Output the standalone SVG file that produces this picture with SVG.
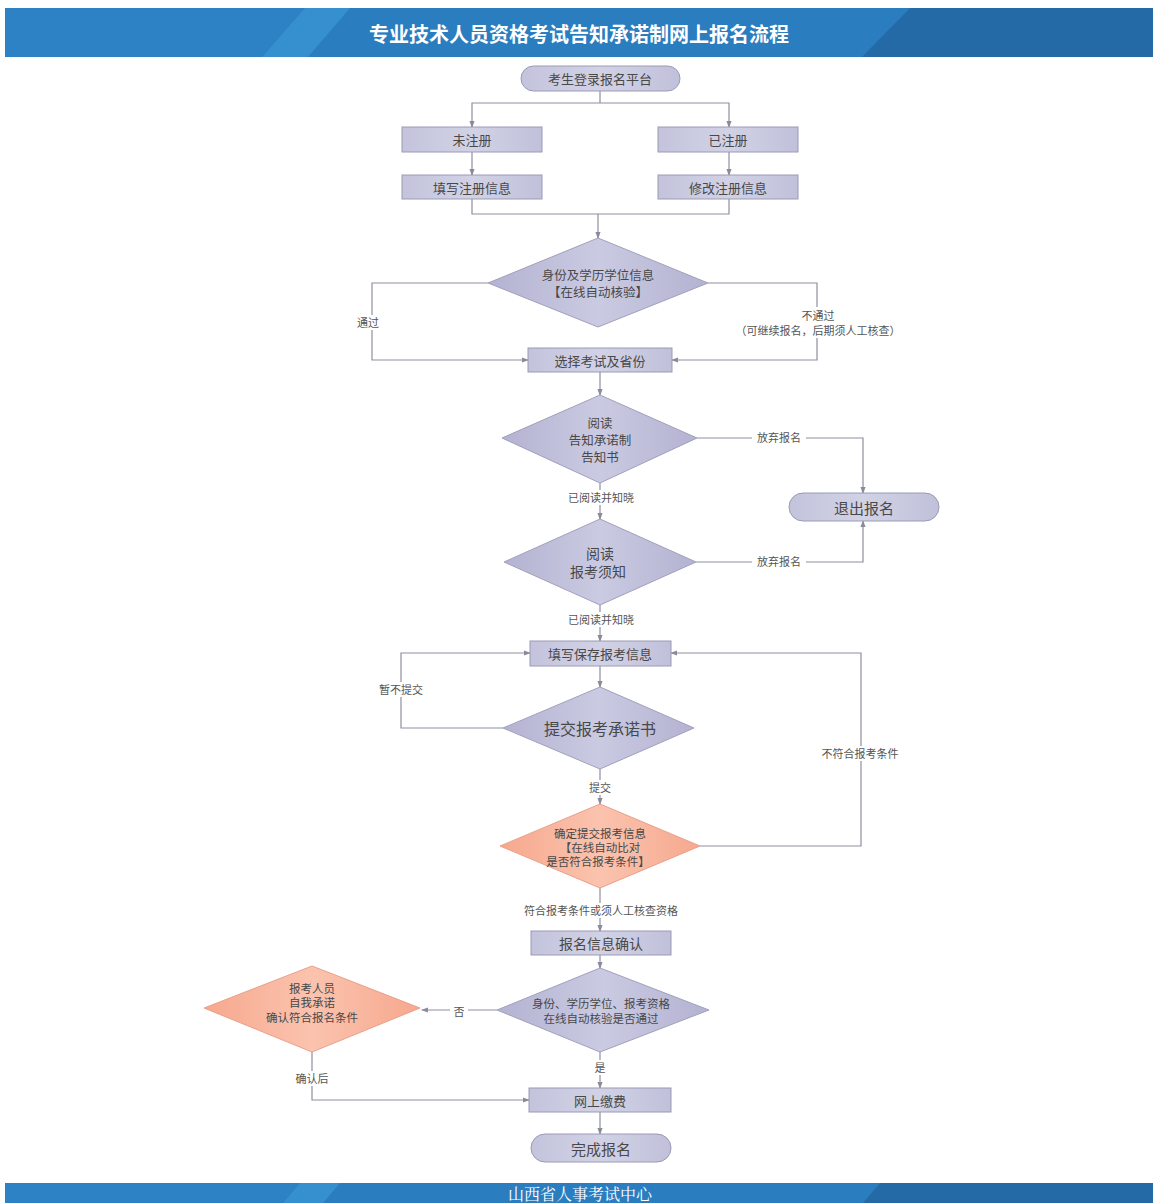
<svg xmlns="http://www.w3.org/2000/svg" width="1153" height="1203" viewBox="0 0 1153 1203">
<defs>
<linearGradient id="gBox" x1="0" y1="0" x2="1" y2="0">
<stop offset="0" stop-color="#c3c3dc"/><stop offset="0.5" stop-color="#d2d2e6"/><stop offset="1" stop-color="#c0c0da"/>
</linearGradient>
<linearGradient id="gDia" x1="0" y1="0" x2="1" y2="0">
<stop offset="0" stop-color="#b3b3d2"/><stop offset="0.5" stop-color="#cacae2"/><stop offset="1" stop-color="#b3b3d2"/>
</linearGradient>
<linearGradient id="gSal" x1="0" y1="0" x2="1" y2="0">
<stop offset="0" stop-color="#f6a88e"/><stop offset="0.5" stop-color="#fbc3ae"/><stop offset="1" stop-color="#f6a88e"/>
</linearGradient>
<marker id="arr" viewBox="0 0 8 8" refX="7" refY="4" markerWidth="7" markerHeight="7" orient="auto" markerUnits="userSpaceOnUse">
<path d="M0,1 L8,4 L0,7 z" fill="#8a8a9a"/>
</marker>
<style>
.box{fill:url(#gBox);stroke:#9a9ab6;stroke-width:1}
.dia{fill:url(#gDia);stroke:#a0a0bc;stroke-width:1}
.sal{fill:url(#gSal);stroke:#e8a08a;stroke-width:1}
.t{font-family:"Noto Sans CJK SC","Noto Sans",sans-serif;fill:#484848;text-anchor:middle;dominant-baseline:central}
.n{font-size:13px}
.l{font-size:11px;fill:#555}
.c path,.c polyline,.c line{fill:none;stroke:#8f8f9f;stroke-width:1.2}
.a{marker-end:url(#arr)}
.lb{fill:#fff}
</style>
</defs>
<rect width="1153" height="1203" fill="#fff"/>
<g id="header">
<rect x="5" y="8" width="1148" height="49" fill="#2a7dbf"/>
<polygon points="5,8 305,8 262,57 5,57" fill="#2c82c4"/>
<polygon points="262,57 305,8 350,8 308,57" fill="#3690d0"/>
<polygon points="910,8 1153,8 1153,57 862,57" fill="#246aa6"/>
<text class="t" x="579" y="33" style="font-size:20px;font-weight:bold;fill:#fff">专业技术人员资格考试告知承诺制网上报名流程</text>
</g>
<g id="footer">
<rect x="5" y="1183" width="1148" height="20" fill="#2a7dbf"/>
<polygon points="5,1183 300,1183 283,1203 5,1203" fill="#2c82c4"/>
<polygon points="300,1183 340,1183 323,1203 283,1203" fill="#3690d0"/>
<polygon points="880,1183 1153,1183 1153,1203 863,1203" fill="#246aa6"/>
<text class="t" x="580" y="1193.5" style="font-family:'Noto Serif CJK SC','Liberation Serif',serif;font-size:16px;fill:#fff">山西省人事考试中心</text>
</g>
<g class="c" id="connectors">
<polyline points="600,91 600,103"/>
<polyline class="a" points="600,103 472,103 472,127"/>
<polyline class="a" points="600,103 729,103 729,127"/>
<line class="a" x1="472" y1="152" x2="472" y2="175"/>
<line class="a" x1="729" y1="152" x2="729" y2="175"/>
<polyline points="472,199 472,214 729,214 729,199"/>
<line class="a" x1="598" y1="214" x2="598" y2="238"/>
<polyline class="a" points="488,283 372,283 372,360 528,360"/>
<polyline class="a" points="708,283 817,283 817,360 672,360"/>
<line class="a" x1="600" y1="372" x2="600" y2="395"/>
<polyline class="a" points="697,438 863,438 863,493"/>
<line class="a" x1="600" y1="483" x2="600" y2="519"/>
<polyline class="a" points="696,562 863,562 863,521"/>
<line class="a" x1="600" y1="605" x2="600" y2="641"/>
<line class="a" x1="600" y1="666" x2="600" y2="687"/>
<polyline class="a" points="503,728 401,728 401,653 530,653"/>
<line class="a" x1="600" y1="769" x2="600" y2="804"/>
<polyline class="a" points="700,846 861,846 861,653 671,653"/>
<line class="a" x1="600" y1="888" x2="600" y2="931"/>
<line class="a" x1="600" y1="955" x2="600" y2="968"/>
<line class="a" x1="497" y1="1010" x2="422" y2="1010"/>
<polyline class="a" points="312,1052 312,1100 529,1100"/>
<line class="a" x1="600" y1="1052" x2="600" y2="1088"/>
<line class="a" x1="600" y1="1112" x2="600" y2="1134"/>
</g>
<g id="edge-labels">
<rect class="lb" x="352" y="315" width="32" height="15"/>
<text class="t l" x="368" y="322">通过</text>
<rect class="lb" x="720" y="307" width="196" height="31"/>
<text class="t l" x="818" y="315">不通过</text>
<text class="t l" x="818" y="330">（可继续报名，后期须人工核查）</text>
<rect class="lb" x="752" y="430" width="54" height="15"/>
<text class="t l" x="779" y="437">放弃报名</text>
<rect class="lb" x="562" y="490" width="78" height="15"/>
<text class="t l" x="601" y="497">已阅读并知晓</text>
<rect class="lb" x="752" y="554" width="54" height="15"/>
<text class="t l" x="779" y="561">放弃报名</text>
<rect class="lb" x="562" y="612" width="78" height="15"/>
<text class="t l" x="601" y="619">已阅读并知晓</text>
<rect class="lb" x="373" y="682" width="56" height="15"/>
<text class="t l" x="401" y="689">暂不提交</text>
<rect class="lb" x="586" y="780" width="28" height="15"/>
<text class="t l" x="600" y="787">提交</text>
<rect class="lb" x="812" y="746" width="96" height="15"/>
<text class="t l" x="860" y="753">不符合报考条件</text>
<rect class="lb" x="514" y="903" width="174" height="15"/>
<text class="t l" x="601" y="910">符合报考条件或须人工核查资格</text>
<rect class="lb" x="450" y="1004" width="18" height="15"/>
<text class="t l" x="459" y="1011">否</text>
<rect class="lb" x="592" y="1060" width="18" height="15"/>
<text class="t l" x="600" y="1067">是</text>
<rect class="lb" x="290" y="1071" width="44" height="15"/>
<text class="t l" x="312" y="1078">确认后</text>
</g>
<g id="n-login"><rect class="box" x="521" y="66" width="159" height="25" rx="12.5"/><text class="t n" x="600" y="78.5">考生登录报名平台</text></g>
<g id="n-unreg"><rect class="box" x="402" y="127" width="140" height="25"/><text class="t n" x="472" y="139.5">未注册</text></g>
<g id="n-reg"><rect class="box" x="658" y="127" width="140" height="25"/><text class="t n" x="728" y="139.5">已注册</text></g>
<g id="n-fill"><rect class="box" x="402" y="175" width="140" height="24"/><text class="t n" x="472" y="187">填写注册信息</text></g>
<g id="n-modify"><rect class="box" x="658" y="175" width="140" height="24"/><text class="t n" x="728" y="187">修改注册信息</text></g>
<g id="n-verify1"><polygon class="dia" points="598,238 708,283 598,327 488,283"/><text class="t" x="598" y="274.5" style="font-size:12.5px">身份及学历学位信息</text><text class="t" x="598" y="291.5" style="font-size:12.5px">【在线自动核验】</text></g>
<g id="n-select"><rect class="box" x="528" y="348" width="144" height="24"/><text class="t n" x="600" y="360">选择考试及省份</text></g>
<g id="n-read1"><polygon class="dia" points="600,395 697,438 600,483 502,438"/><text class="t" x="600" y="422" style="font-size:12.5px">阅读</text><text class="t" x="600" y="439" style="font-size:12.5px">告知承诺制</text><text class="t" x="600" y="456" style="font-size:12.5px">告知书</text></g>
<g id="n-quit"><rect class="box" x="789" y="493" width="150" height="28" rx="14"/><text class="t" x="864" y="507" style="font-size:15px">退出报名</text></g>
<g id="n-read2"><polygon class="dia" points="600,519 696,562 600,605 504,562"/><text class="t" x="600" y="553" style="font-size:14px">阅读</text><text class="t" x="598" y="571" style="font-size:14px">报考须知</text></g>
<g id="n-save"><rect class="box" x="530" y="641" width="141" height="25"/><text class="t n" x="600" y="653.5">填写保存报考信息</text></g>
<g id="n-submit"><polygon class="dia" points="600,687 694,728 600,769 503,728"/><text class="t" x="600" y="728" style="font-size:16px">提交报考承诺书</text></g>
<g id="n-compare"><polygon class="sal" points="600,804 700,846 600,888 500,846"/><text class="t" x="600" y="833" style="font-size:11.5px">确定提交报考信息</text><text class="t" x="600" y="847" style="font-size:11.5px">【在线自动比对</text><text class="t" x="598" y="861" style="font-size:11.5px">是否符合报考条件】</text></g>
<g id="n-confirm"><rect class="box" x="531" y="931" width="140" height="24"/><text class="t" x="601" y="943" style="font-size:14px">报名信息确认</text></g>
<g id="n-verify2"><polygon class="dia" points="600,968 709,1010 600,1052 497,1010"/><text class="t" x="601" y="1003" style="font-size:11.5px">身份、学历学位、报考资格</text><text class="t" x="601" y="1018" style="font-size:11.5px">在线自动核验是否通过</text></g>
<g id="n-self"><polygon class="sal" points="312,966 420,1008 312,1052 204,1008"/><text class="t" x="312" y="988" style="font-size:11.5px">报考人员</text><text class="t" x="312" y="1002" style="font-size:11.5px">自我承诺</text><text class="t" x="312" y="1017" style="font-size:11.5px">确认符合报名条件</text></g>
<g id="n-pay"><rect class="box" x="529" y="1088" width="142" height="24"/><text class="t n" x="600" y="1100">网上缴费</text></g>
<g id="n-done"><rect class="box" x="531" y="1134" width="140" height="28" rx="14"/><text class="t" x="601" y="1148" style="font-size:15px">完成报名</text></g>
</svg>
